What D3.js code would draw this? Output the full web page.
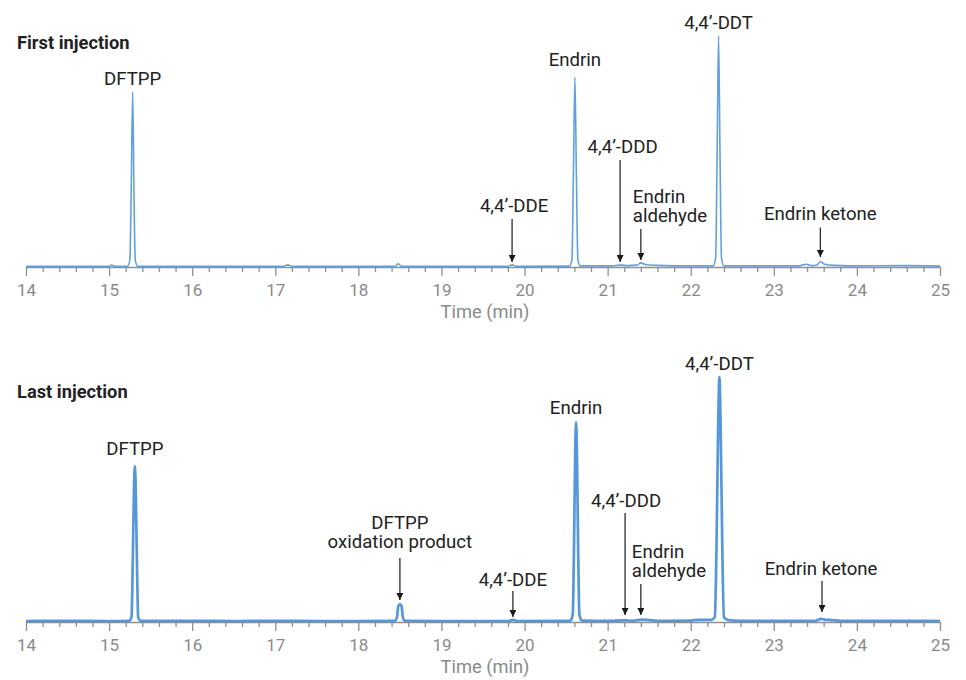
<!DOCTYPE html>
<html>
<head>
<meta charset="utf-8">
<script src="https://d3js.org/d3.v7.min.js"></script>
<style>
  body { margin: 0; background: #fff; }
  svg { display: block; font-family: Roboto, "Noto Sans", sans-serif; }
  .title { font-size: 18.3px; font-weight: bold; fill: #222; }
  .label { font-size: 18.6px; fill: #222; }
  .xlabel { font-size: 18.3px; fill: #8a8a8a; }
  .axis text { font-size: 17px; fill: #8a8a8a; font-family: Roboto, sans-serif; }
  .axis line, .axis path { stroke: #8f8f8f; stroke-width: 1.3; }
</style>
</head>
<body>
<svg id="chart" width="966" height="680"></svg>
<script>
// x axis (minutes)
var timeTicks = [14, 15, 16, 17, 18, 19, 20, 21, 22, 23, 24, 25];

// First injection trace: [time (min), relative abundance]
var firstTrace = [
  [14.0, 0.3], [14.6, 0.3], [15.0, 0.3], [15.03, 0.8], [15.07, 0.3],
  [15.22, 0.3], [15.25, 3], [15.265, 30], [15.284, 75.8], [15.30, 30], [15.315, 3], [15.345, 0.3],
  [16.0, 0.3], [17.1, 0.3], [17.15, 0.9], [17.2, 0.3],
  [18.44, 0.3], [18.48, 1.4], [18.52, 0.3],
  [19.8, 0.3], [19.85, 0.9], [19.9, 0.3],
  [20.54, 0.4], [20.57, 3], [20.588, 40], [20.606, 82.1], [20.624, 40], [20.642, 3], [20.67, 0.5],
  [21.05, 0.5], [21.15, 0.8], [21.25, 0.6], [21.35, 0.8], [21.40, 1.8], [21.46, 1.0], [21.6, 0.7], [21.8, 0.5],
  [22.27, 0.5], [22.30, 4], [22.318, 50], [22.335, 100], [22.352, 50], [22.37, 4], [22.40, 0.5],
  [23.3, 0.5], [23.39, 1.2], [23.46, 0.6], [23.52, 0.9], [23.56, 2.3], [23.61, 1.2], [23.72, 0.7], [23.9, 0.5],
  [24.6, 0.6], [25.0, 0.4]
];

// Last injection trace
var lastTrace = [
  [14.0, 0.4], [14.5, 0.5], [15.0, 0.4], [15.24, 0.5], [15.27, 2], [15.285, 25], [15.30, 55], [15.31, 63.6],
  [15.32, 55], [15.335, 25], [15.35, 2], [15.38, 0.5],
  [16.0, 0.5], [16.5, 0.4], [17.0, 0.5], [17.5, 0.4], [18.0, 0.4],
  [18.44, 0.5], [18.465, 2], [18.48, 6.5], [18.50, 7.2], [18.52, 6.5], [18.535, 2], [18.56, 0.5],
  [19.0, 0.4], [19.8, 0.4], [19.86, 0.9], [19.92, 0.4],
  [20.55, 0.5], [20.58, 3], [20.595, 30], [20.61, 70], [20.62, 81.6], [20.63, 70], [20.645, 30], [20.66, 3], [20.69, 0.6],
  [21.0, 0.5], [21.21, 0.7], [21.3, 0.5], [21.42, 1.0], [21.6, 0.5],
  [22.0, 0.6], [22.1, 0.9], [22.25, 0.9], [22.29, 2], [22.31, 30], [22.33, 80], [22.345, 100],
  [22.36, 80], [22.38, 30], [22.40, 2], [22.45, 0.8], [22.6, 0.5],
  [23.5, 0.5], [23.57, 1.3], [23.62, 0.9], [23.7, 0.8], [23.8, 0.5], [24.5, 0.5], [25.0, 0.4]
];

// peak labels sitting on top of the big peaks
var firstPeakNames = ["DFTPP", "Endrin", "4,4\u2019-DDT"];
var firstPeakTimes = [15.284, 20.606, 22.335];
var lastPeakNames = ["DFTPP", "Endrin", "4,4\u2019-DDT"];
var lastPeakTimes = [15.31, 20.62, 22.345];

// arrow annotations
var firstArrowNames = ["4,4\u2019-DDE", "4,4\u2019-DDD", "Endrin\naldehyde", "Endrin ketone"];
var firstArrowTimes = [19.85, 21.15, 21.40, 23.56];
var lastArrowNames = ["DFTPP\noxidation product", "4,4\u2019-DDE", "4,4\u2019-DDD", "Endrin\naldehyde", "Endrin ketone"];
var lastArrowTimes = [18.50, 19.86, 21.21, 21.40, 23.58];

var svg = d3.select("#chart");
var x = d3.scaleLinear().domain([14, 25]).range([26, 940]);

var panels = [
  { title: "First injection", trace: firstTrace, base: 267, top: 36, titleY: 49, color: "#5a9bdb", width: 1.6,
    peaks: firstPeakNames.map((n, i) => ({ name: n, t: firstPeakTimes[i] })),
    peakGap: [6.7, 11.3, 6.7],
    arrows: firstArrowNames.map((n, i) => ({ name: n, t: firstArrowTimes[i] })),
    // arrow start / tip heights above the baseline, text offset
    arrowLayout: [
      { start: 48, tip: 5, dx: 2, anchor: "middle", gap: 7 },
      { start: 107, tip: 5, dx: 2.5, anchor: "middle", gap: 7 },
      { start: 38, tip: 7, dx: -8, anchor: "start", gap: 7.5 },
      { start: 39.5, tip: 10, dx: 0, anchor: "middle", gap: 7.5 }
    ] },
  { title: "Last injection", trace: lastTrace, base: 622, top: 377, titleY: 398, color: "#4d91d8", width: 2.7,
    peaks: lastPeakNames.map((n, i) => ({ name: n, t: lastPeakTimes[i] })),
    peakGap: [11, 7.7, 7.3],
    arrows: lastArrowNames.map((n, i) => ({ name: n, t: lastArrowTimes[i] })),
    arrowLayout: [
      { start: 64, tip: 22, dx: 0, anchor: "middle", gap: 10.5 },
      { start: 31, tip: 5, dx: 0, anchor: "middle", gap: 5 },
      { start: 109, tip: 7, dx: 1, anchor: "middle", gap: 6.5 },
      { start: 38, tip: 7, dx: -9, anchor: "start", gap: 7 },
      { start: 41, tip: 10, dx: -1, anchor: "middle", gap: 6 }
    ] }
];

// arrowhead
svg.append("defs").append("marker")
  .attr("id", "head")
  .attr("viewBox", "0 0 10 10")
  .attr("refX", 10).attr("refY", 5)
  .attr("markerWidth", 7).attr("markerHeight", 7)
  .attr("markerUnits", "userSpaceOnUse")
  .attr("orient", "auto")
  .append("path")
  .attr("d", "M0,0 L10,5 L0,10 Z")
  .attr("fill", "#1a1a1a");

var minorTicks = d3.range(14, 25.0001, 0.2).filter(v => Math.abs(v - Math.round(v)) > 0.01);

panels.forEach(function (p) {
  var y = d3.scaleLinear().domain([0, 100]).range([p.base, p.top]);
  var g = svg.append("g");

  g.append("text").attr("class", "title").attr("x", 17).attr("y", p.titleY).text(p.title);

  // axis: major + minor ticks
  g.append("g").attr("class", "axis")
    .attr("transform", "translate(0," + p.base + ")")
    .call(d3.axisBottom(x).tickValues(timeTicks).tickSize(9).tickSizeOuter(0).tickPadding(8).tickFormat(d3.format("d")));
  g.append("g").attr("class", "axis minor")
    .attr("transform", "translate(0," + p.base + ")")
    .call(d3.axisBottom(x).tickValues(minorTicks).tickSize(5).tickSizeOuter(0).tickFormat(""))
    .select(".domain").remove();

  g.append("text").attr("class", "xlabel")
    .attr("x", (x.range()[0] + x.range()[1]) / 2 + 2)
    .attr("y", p.base + 51)
    .attr("text-anchor", "middle")
    .text("Time (min)");

  // trace
  var line = d3.line().x(d => x(d[0])).y(d => y(d[1])).curve(d3.curveMonotoneX);
  g.append("path").datum(p.trace)
    .attr("d", line)
    .attr("fill", "none")
    .attr("stroke", p.color)
    .attr("stroke-width", p.width)
    .attr("stroke-linejoin", "round")
    .attr("opacity", 0.95);

  // peak labels
  p.peaks.forEach(function (pk, i) {
    var near = p.trace.filter(d => Math.abs(d[0] - pk.t) < 0.05);
    var vmax = d3.max(near, d => d[1]);
    g.append("text").attr("class", "label")
      .attr("x", x(pk.t))
      .attr("y", y(vmax) - p.peakGap[i])
      .attr("text-anchor", "middle")
      .text(pk.name);
  });

  // arrow annotations
  p.arrows.forEach(function (a, i) {
    var L = p.arrowLayout[i];
    var ax = x(a.t);
    g.append("line")
      .attr("x1", ax).attr("x2", ax)
      .attr("y1", p.base - L.start).attr("y2", p.base - L.tip)
      .attr("stroke", "#1a1a1a").attr("stroke-width", 1.2)
      .attr("marker-end", "url(#head)");
    var lines = a.name.split("\n");
    var t = g.append("text").attr("class", "label")
      .attr("text-anchor", L.anchor);
    lines.forEach(function (s, k) {
      t.append("tspan")
        .attr("x", ax + L.dx)
        .attr("y", p.base - L.start - L.gap - (lines.length - 1 - k) * 19)
        .text(s);
    });
  });
});
</script>
</body>
</html>
